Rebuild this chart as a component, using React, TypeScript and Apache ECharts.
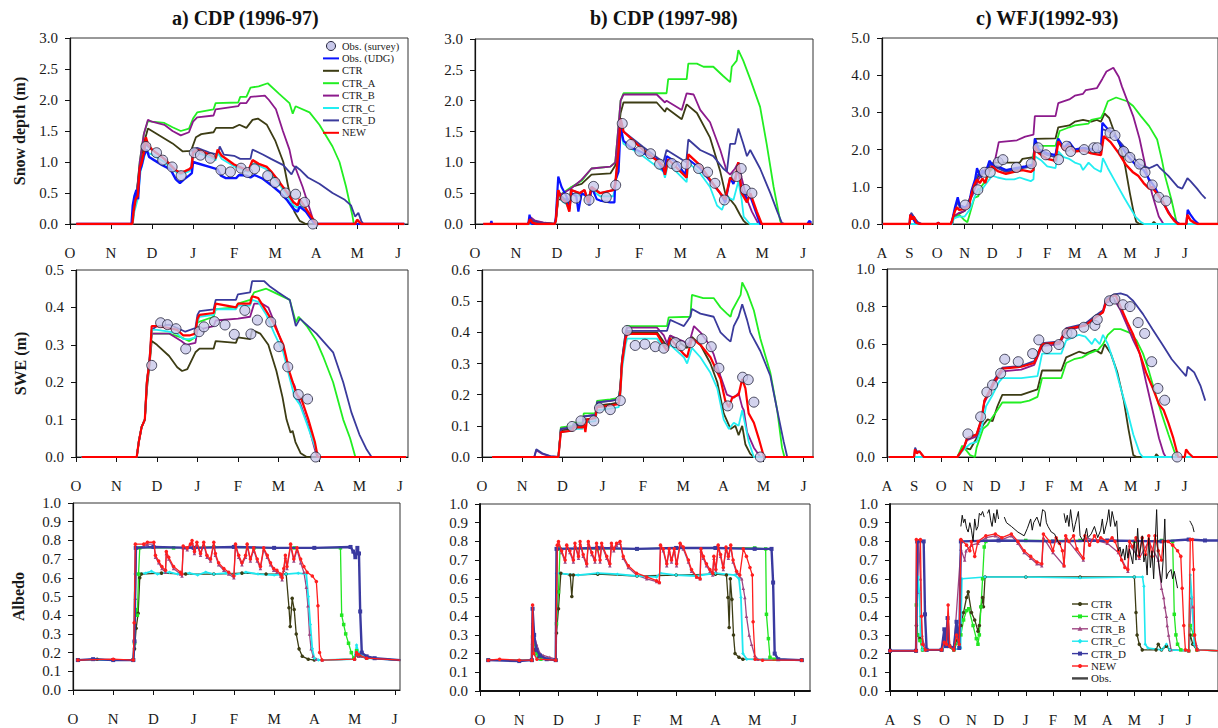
import React, { useEffect, useRef } from 'react';
import * as echarts from 'echarts';

type Pt = [number, number | string];

// x values are months elapsed since the first axis month (Oct 1 for CDP, Aug 1 for WFJ)
const MONTHS_OCT = ['O', 'N', 'D', 'J', 'F', 'M', 'A', 'M', 'J'];
const MONTHS_AUG = ['A', 'S', 'O', 'N', 'D', 'J', 'F', 'M', 'A', 'M', 'J', 'J'];

// ---------- a) CDP 1996-97 : snow depth (m) ----------
const depthA_survey: Pt[] = [[1.85,1.25],[2.11,1.15],[2.26,1.03],[2.49,0.92],[2.71,0.78],[3.03,1.15],[3.18,1.11],[3.42,1.06],[3.68,0.87],[3.91,0.84],[4.17,0.9],[4.33,0.83],[4.5,0.89],[4.82,0.78],[5.0,0.67],[5.25,0.5],[5.5,0.48],[5.72,0.35],[5.92,0.0]];
const depthA_udg: Pt[] = [[0.15,0],[1.5,0],[1.53,0.3],[1.57,0.45],[1.62,0.55],[1.66,0.4],[1.7,0.85],[1.75,0.95],[1.8,1.1],[1.87,1.2],[1.93,1.08],[2.05,1.03],[2.25,0.95],[2.45,0.88],[2.58,0.72],[2.68,0.66],[2.78,0.72],[2.9,0.78],[2.97,0.82],[3.0,1.0],[3.1,0.98],[3.4,0.92],[3.6,0.88],[3.68,0.78],[3.8,0.74],[4.05,0.74],[4.12,0.79],[4.3,0.78],[4.4,0.75],[4.5,0.79],[4.7,0.73],[4.9,0.63],[5.1,0.52],[5.3,0.38],[5.45,0.24],[5.55,0.2],[5.6,0.28],[5.75,0.2],[5.88,0.08],[5.97,0],[8.15,0]];
const depthA_ctr: Pt[] = [[0.15,0],[1.52,0],[1.55,0.2],[1.62,0.45],[1.7,0.95],[1.8,1.3],[1.9,1.54],[2.0,1.5],[2.2,1.42],[2.5,1.3],[2.75,1.17],[2.95,1.18],[3.07,1.4],[3.2,1.45],[3.5,1.48],[3.56,1.55],[3.97,1.55],[4.13,1.6],[4.3,1.55],[4.45,1.68],[4.58,1.7],[4.8,1.6],[5.0,1.35],[5.2,1.0],[5.35,0.5],[5.47,0.2],[5.6,0.05],[5.75,0],[8.15,0]];
const depthA_ctrA: Pt[] = [[0.15,0],[1.52,0],[1.55,0.2],[1.62,0.45],[1.7,1.0],[1.8,1.45],[1.9,1.66],[2.0,1.65],[2.3,1.63],[2.5,1.56],[2.7,1.5],[2.9,1.54],[3.0,1.7],[3.1,1.8],[3.5,1.85],[3.55,1.95],[4.1,1.96],[4.15,2.05],[4.3,2.05],[4.4,2.2],[4.6,2.22],[4.82,2.27],[5.1,2.1],[5.35,1.95],[5.43,1.78],[5.5,1.9],[5.84,1.8],[6.08,1.6],[6.4,1.25],[6.57,1.0],[6.73,0.6],[6.88,0.15],[6.92,0],[8.15,0]];
const depthA_ctrB: Pt[] = [[0.15,0],[1.52,0],[1.55,0.2],[1.62,0.45],[1.7,1.0],[1.8,1.45],[1.9,1.68],[2.0,1.65],[2.3,1.6],[2.5,1.5],[2.7,1.43],[2.9,1.48],[3.0,1.65],[3.1,1.72],[3.5,1.75],[3.55,1.85],[4.1,1.9],[4.15,1.95],[4.3,1.95],[4.4,2.05],[4.75,2.07],[4.85,2.0],[5.02,1.85],[5.19,1.5],[5.35,1.2],[5.43,0.95],[5.5,0.9],[5.67,0.6],[5.84,0.25],[5.96,0],[8.15,0]];
const depthA_ctrC: Pt[] = [[0.15,0],[1.53,0],[1.57,0.2],[1.65,0.4],[1.72,0.85],[1.8,1.05],[1.85,1.2],[1.9,1.15],[2.0,1.12],[2.3,1.0],[2.55,0.85],[2.7,0.8],[2.9,0.85],[2.97,0.88],[3.0,1.12],[3.1,1.15],[3.4,1.08],[3.55,1.03],[3.6,1.15],[3.7,1.05],[4.0,0.93],[4.2,0.88],[4.35,0.84],[4.45,0.98],[4.6,0.94],[4.8,0.88],[4.9,0.8],[5.1,0.64],[5.3,0.45],[5.45,0.3],[5.55,0.26],[5.6,0.35],[5.8,0.16],[5.95,0.03],[6.0,0],[8.15,0]];
const depthA_ctrD: Pt[] = [[0.15,0],[1.52,0],[1.55,0.2],[1.62,0.45],[1.7,0.9],[1.78,1.05],[1.85,1.3],[1.9,1.25],[2.0,1.2],[2.3,1.05],[2.6,0.85],[2.8,0.83],[2.95,0.9],[3.0,1.2],[3.1,1.23],[3.4,1.15],[3.6,1.12],[3.65,1.25],[3.75,1.12],[4.0,1.1],[4.15,1.05],[4.4,1.05],[4.45,1.2],[4.7,1.12],[4.9,1.05],[5.2,0.95],[5.4,0.8],[5.5,0.93],[5.6,0.88],[5.8,0.75],[6.08,0.65],[6.4,0.5],[6.7,0.39],[6.85,0.3],[6.95,0.12],[7.03,0.18],[7.1,0.05],[7.15,0],[8.15,0]];
const depthA_new: Pt[] = [[0.15,0],[1.52,0],[1.55,0.2],[1.6,0.4],[1.65,0.45],[1.7,0.9],[1.75,1.0],[1.8,1.15],[1.85,1.4],[1.9,1.28],[2.0,1.2],[2.3,1.05],[2.55,0.88],[2.7,0.82],[2.9,0.88],[2.97,0.92],[3.0,1.15],[3.1,1.2],[3.4,1.12],[3.55,1.06],[3.6,1.2],[3.7,1.1],[4.0,0.96],[4.2,0.9],[4.35,0.86],[4.45,1.03],[4.6,0.97],[4.8,0.92],[4.9,0.85],[5.1,0.68],[5.3,0.5],[5.45,0.35],[5.55,0.3],[5.6,0.4],[5.8,0.2],[5.95,0.05],[6.0,0],[6.95,0],[7.0,0.07],[7.1,0],[8.15,0]];

// ---------- b) CDP 1997-98 : snow depth (m) ----------
const depthB_survey: Pt[] = [[2.21,0.42],[2.46,0.42],[2.78,0.39],[2.89,0.61],[3.2,0.43],[3.43,0.63],[3.59,1.63],[3.8,1.29],[4.02,1.18],[4.28,1.14],[4.5,0.97],[4.8,0.98],[4.92,0.93],[5.15,0.97],[5.45,0.9],[5.67,0.84],[5.85,0.66],[6.08,0.39],[6.38,0.77],[6.49,0.9],[6.59,0.56],[6.75,0.5]];
const depthB_udg: Pt[] = [[0.2,0],[0.38,0],[0.4,0.05],[0.42,0],[1.3,0],[1.33,0.15],[1.36,0.02],[1.4,0],[1.94,0],[1.97,0.1],[2.03,0.77],[2.11,0.6],[2.23,0.45],[2.3,0.25],[2.35,0.5],[2.47,0.45],[2.52,0.2],[2.6,0.5],[2.72,0.45],[2.79,0.3],[2.84,0.6],[2.97,0.4],[3.05,0.38],[3.3,0.35],[3.4,0.35],[3.42,0.7],[3.5,0.85],[3.55,1.58],[3.62,1.35],[3.78,1.25],[4.1,1.15],[4.43,1.05],[4.63,0.82],[4.67,1.1],[4.92,1.0],[5.12,0.8],[5.2,1.05],[5.49,0.9],[5.73,0.7],[5.98,0.5],[6.1,0.35],[6.22,0.75],[6.3,0.65],[6.42,0.9],[6.5,0.55],[6.63,0.4],[6.71,0.45],[6.87,0.15],[6.95,0],[8.1,0],[8.15,0.05],[8.2,0.02]];
const depthB_ctr: Pt[] = [[0.2,0],[1.3,0],[1.34,0.1],[1.4,0.05],[1.6,0.02],[1.94,0],[1.97,0.05],[2.03,0.4],[2.3,0.4],[2.35,0.6],[2.6,0.65],[2.84,0.8],[3.3,0.82],[3.42,0.95],[3.5,1.5],[3.55,1.8],[3.62,1.97],[4.43,1.97],[4.63,1.82],[4.67,1.88],[5.04,1.7],[5.16,1.94],[5.41,1.8],[5.73,1.4],[5.98,0.85],[6.1,0.5],[6.22,0.4],[6.34,0.3],[6.46,0.15],[6.55,0.05],[6.63,0],[8.2,0]];
const depthB_ctrA: Pt[] = [[0.2,0],[1.3,0],[1.34,0.1],[1.4,0.05],[1.6,0.02],[1.94,0],[1.97,0.05],[2.03,0.45],[2.35,0.6],[2.6,0.7],[2.84,0.9],[3.3,0.93],[3.42,1.0],[3.5,1.6],[3.55,2.0],[3.62,2.12],[4.67,2.12],[4.71,2.35],[5.16,2.35],[5.2,2.6],[5.41,2.6],[5.57,2.55],[5.81,2.55],[6.05,2.4],[6.22,2.3],[6.26,2.55],[6.38,2.65],[6.42,2.82],[6.54,2.65],[6.71,2.35],[6.95,1.9],[7.11,1.3],[7.28,0.6],[7.44,0.05],[7.48,0],[8.2,0]];
const depthB_ctrB: Pt[] = [[0.2,0],[1.3,0],[1.34,0.12],[1.45,0.06],[1.7,0.02],[1.94,0],[1.97,0.05],[2.03,0.45],[2.35,0.58],[2.6,0.72],[2.84,0.9],[3.3,0.93],[3.42,1.0],[3.5,1.6],[3.55,2.0],[3.62,2.1],[4.43,2.1],[4.63,1.97],[4.67,2.0],[5.04,1.85],[5.16,2.12],[5.33,2.1],[5.49,1.85],[5.73,1.65],[5.98,1.2],[6.14,0.85],[6.22,0.8],[6.34,0.9],[6.42,1.0],[6.5,0.75],[6.63,0.4],[6.75,0.2],[6.87,0.05],[6.91,0],[8.2,0]];
const depthB_ctrC: Pt[] = [[0.2,0],[1.94,0],[1.97,0.05],[2.03,0.5],[2.11,0.38],[2.23,0.32],[2.3,0.22],[2.35,0.5],[2.55,0.45],[2.67,0.5],[2.76,0.33],[2.84,0.55],[3.05,0.45],[3.37,0.45],[3.42,0.6],[3.5,1.1],[3.55,1.5],[3.62,1.3],[4.1,1.1],[4.59,0.85],[4.63,0.75],[4.71,0.98],[5.16,0.68],[5.2,1.0],[5.49,0.82],[5.73,0.6],[5.9,0.3],[6.02,0.23],[6.14,0.44],[6.3,0.39],[6.42,0.69],[6.5,0.4],[6.55,0.12],[6.7,0],[8.2,0]];
const depthB_ctrD: Pt[] = [[0.2,0],[1.3,0],[1.34,0.1],[1.4,0.05],[1.6,0.02],[1.94,0],[1.97,0.05],[2.03,0.55],[2.11,0.45],[2.23,0.38],[2.3,0.25],[2.35,0.55],[2.55,0.5],[2.67,0.55],[2.76,0.38],[2.84,0.6],[3.05,0.5],[3.37,0.55],[3.42,0.65],[3.5,1.2],[3.55,1.65],[3.62,1.5],[4.1,1.25],[4.59,1.0],[4.67,1.2],[5.15,1.0],[5.2,1.37],[5.49,1.2],[5.81,1.1],[6.05,0.9],[6.14,0.85],[6.22,1.3],[6.34,1.3],[6.42,1.55],[6.54,1.3],[6.63,1.1],[6.71,1.2],[6.95,0.9],[7.2,0.5],[7.37,0.2],[7.48,0.02],[7.55,0],[8.2,0]];
const depthB_new: Pt[] = [[0.2,0],[1.3,0],[1.34,0.08],[1.4,0.02],[1.5,0],[1.94,0],[1.97,0.05],[2.03,0.55],[2.11,0.4],[2.23,0.35],[2.3,0.2],[2.35,0.55],[2.55,0.5],[2.67,0.55],[2.76,0.35],[2.84,0.6],[3.05,0.5],[3.37,0.55],[3.42,0.65],[3.5,1.2],[3.55,1.71],[3.62,1.5],[4.1,1.2],[4.59,0.95],[4.63,0.8],[4.71,1.05],[5.16,0.75],[5.2,1.13],[5.49,0.95],[5.73,0.72],[5.98,0.5],[6.1,0.4],[6.22,0.75],[6.34,0.7],[6.42,1.0],[6.5,0.5],[6.63,0.35],[6.71,0.5],[6.87,0.2],[6.99,0],[8.2,0]];

// ---------- c) WFJ 1992-93 : snow depth (m) ----------
const depthC_survey: Pt[] = [[3.02,0.51],[3.48,0.92],[3.72,1.39],[3.93,1.39],[4.22,1.66],[4.39,1.73],[4.88,1.52],[5.42,1.62],[5.67,2.05],[5.95,1.86],[6.41,1.73],[6.7,2.09],[6.85,1.95],[7.34,2.0],[7.69,2.05],[7.82,2.05],[8.28,2.45],[8.46,2.38],[8.77,1.95],[9.0,1.79],[9.35,1.61],[9.55,1.39],[9.81,1.05],[10.05,0.72],[10.31,0.62]];
const depthC_udg: Pt[] = [[0.03,0],[1.0,0],[1.03,0.25],[1.1,0.18],[1.2,0.05],[1.4,0],[2.0,0],[2.03,0.04],[2.1,0],[2.5,0],[2.55,0.1],[2.65,0.45],[2.75,0.72],[2.82,0.5],[3.0,0.45],[3.15,0.5],[3.25,0.9],[3.38,1.2],[3.45,1.5],[3.55,1.3],[3.65,1.45],[3.75,1.35],[3.9,1.7],[4.0,1.6],[4.2,1.55],[4.5,1.45],[4.85,1.5],[5.2,1.55],[5.5,1.6],[5.55,2.3],[5.7,2.0],[6.0,1.9],[6.3,1.85],[6.4,2.3],[6.6,2.05],[6.8,2.2],[7.0,2.0],[7.3,2.05],[7.7,2.0],[7.95,1.95],[8.0,2.72],[8.2,2.55],[8.4,2.45],[8.6,2.2],[8.9,1.85],[9.2,1.6],[9.5,1.45],[9.7,1.2],[9.9,1.0],[10.1,0.7],[10.3,0.45],[10.5,0.2],[10.7,0.05],[10.8,0],[11.05,0],[11.1,0.38],[11.2,0.25],[11.35,0.1],[11.5,0],[12.2,0]];
const depthC_ctr: Pt[] = [[0.03,0],[2.55,0],[2.6,0.2],[3.0,0.35],[3.3,0.9],[3.5,1.3],[3.7,1.4],[3.9,1.6],[4.1,1.65],[5.0,1.65],[5.1,1.75],[5.5,1.8],[5.55,2.29],[6.3,2.3],[6.4,2.6],[6.8,2.65],[7.0,2.75],[7.3,2.8],[7.6,2.75],[7.8,2.8],[7.95,2.75],[8.08,2.97],[8.25,2.85],[8.42,2.5],[8.65,2.09],[8.83,1.55],[9.0,0.83],[9.12,0.38],[9.23,0.06],[9.35,0],[9.8,0],[9.87,0.06],[9.95,0],[12.2,0]];
const depthC_ctrA: Pt[] = [[0.03,0],[2.55,0],[2.6,0.15],[2.8,0.25],[3.0,0.1],[3.1,0.05],[3.2,0.3],[3.35,0.7],[3.5,0.75],[3.6,1.0],[3.8,1.2],[3.9,1.4],[4.1,1.55],[4.5,1.45],[5.0,1.5],[5.3,1.55],[5.45,1.6],[5.55,2.1],[6.3,2.1],[6.45,2.5],[6.8,2.6],[7.0,2.65],[7.5,2.7],[7.6,2.8],[7.95,2.85],[8.05,3.0],[8.2,3.3],[8.5,3.4],[8.9,3.3],[9.12,3.17],[9.4,2.9],[9.7,2.63],[9.99,2.27],[10.16,1.73],[10.28,1.28],[10.51,0.65],[10.69,0.06],[10.75,0],[12.2,0]];
const depthC_ctrB: Pt[] = [[0.03,0],[2.55,0],[2.6,0.2],[2.8,0.3],[3.0,0.35],[3.3,0.8],[3.5,1.2],[3.6,1.3],[3.77,1.5],[4.0,1.6],[4.1,1.7],[4.24,2.2],[4.9,2.25],[5.2,2.35],[5.5,2.4],[5.55,2.9],[6.3,2.9],[6.4,3.25],[6.8,3.35],[7.0,3.45],[7.3,3.5],[7.4,3.6],[7.8,3.65],[8.0,3.9],[8.15,4.1],[8.4,4.2],[8.6,3.95],[8.71,3.7],[9.12,2.9],[9.35,2.3],[9.58,1.5],[9.81,0.8],[10.05,0.2],[10.22,0],[12.2,0]];
const depthC_ctrC: Pt[] = [[0.03,0],[2.55,0],[2.6,0.15],[2.8,0.2],[3.0,0.2],[3.2,0.4],[3.4,0.8],[3.5,0.95],[3.6,0.9],[3.8,1.1],[4.0,1.3],[4.2,1.25],[4.5,1.2],[4.8,1.2],[5.0,1.25],[5.2,1.2],[5.4,1.15],[5.5,1.2],[5.55,1.82],[5.8,1.7],[6.0,1.55],[6.3,1.5],[6.4,1.95],[6.6,1.8],[6.8,1.75],[7.0,1.65],[7.2,1.6],[7.3,1.45],[7.5,1.65],[7.7,1.5],[7.95,1.4],[8.02,1.77],[8.2,1.5],[8.5,1.1],[8.8,0.7],[9.0,0.45],[9.2,0.2],[9.4,0.05],[9.52,0],[12.2,0]];
const depthC_ctrD: Pt[] = [[0.03,0],[1.0,0],[1.06,0.3],[1.15,0.2],[1.3,0.05],[1.45,0],[2.0,0],[2.05,0.03],[2.1,0],[2.5,0],[2.55,0.1],[2.65,0.4],[2.75,0.6],[2.82,0.45],[3.0,0.45],[3.15,0.5],[3.25,0.85],[3.4,1.2],[3.5,1.35],[3.6,1.25],[3.7,1.4],[3.8,1.3],[3.9,1.6],[4.0,1.6],[4.2,1.5],[4.5,1.4],[4.8,1.45],[5.1,1.5],[5.5,1.55],[5.55,2.2],[5.7,1.95],[6.0,1.85],[6.3,1.8],[6.4,2.25],[6.6,2.0],[6.8,2.15],[7.0,2.0],[7.3,2.02],[7.7,1.98],[7.95,1.9],[8.0,2.55],[8.2,2.5],[8.42,2.4],[8.88,2.0],[9.35,1.6],[9.7,1.5],[9.85,1.55],[9.99,1.6],[10.1,1.5],[10.39,1.3],[10.74,1.0],[10.9,0.95],[11.09,1.23],[11.2,1.15],[11.44,0.95],[11.6,0.8],[11.75,0.68]];
const depthC_new: Pt[] = [[0.03,0],[1.0,0],[1.03,0.25],[1.1,0.12],[1.15,0.2],[1.25,0.03],[1.4,0],[2.0,0],[2.03,0.03],[2.1,0],[2.5,0],[2.55,0.1],[2.65,0.35],[2.72,0.45],[2.8,0.38],[3.0,0.4],[3.15,0.45],[3.25,0.8],[3.35,1.05],[3.45,1.2],[3.55,1.1],[3.65,1.22],[3.75,1.1],[3.85,1.4],[4.0,1.55],[4.2,1.42],[4.5,1.35],[4.8,1.4],[5.1,1.45],[5.4,1.4],[5.5,1.45],[5.55,2.09],[5.7,1.9],[6.0,1.75],[6.3,1.7],[6.4,2.22],[6.6,2.0],[6.8,2.1],[7.0,1.95],[7.3,1.98],[7.6,1.9],[7.95,1.85],[8.05,2.36],[8.3,2.2],[8.6,1.9],[8.85,1.6],[9.1,1.4],[9.3,1.3],[9.5,1.1],[9.7,0.95],[9.8,1.0],[10.0,0.8],[10.2,0.6],[10.4,0.3],[10.6,0.1],[10.74,0],[11.05,0],[11.09,0.25],[11.2,0.1],[11.35,0.03],[11.45,0],[12.2,0]];

// ---------- a) SWE (m) ----------
const sweA_survey: Pt[] = [[1.87,0.245],[2.09,0.359],[2.26,0.354],[2.47,0.343],[2.71,0.289],[3.04,0.335],[3.16,0.348],[3.42,0.362],[3.68,0.353],[3.91,0.328],[4.17,0.392],[4.32,0.329],[4.48,0.366],[4.81,0.361],[5.01,0.295],[5.23,0.241],[5.49,0.167],[5.72,0.155],[5.92,0.0]];
const sweA_ctr: Pt[] = [[0.14,0],[1.5,0],[1.55,0.04],[1.62,0.08],[1.7,0.1],[1.75,0.18],[1.82,0.25],[1.87,0.31],[2.0,0.3],[2.3,0.27],[2.5,0.24],[2.62,0.23],[2.75,0.235],[2.95,0.28],[3.05,0.29],[3.4,0.29],[3.45,0.31],[3.95,0.305],[4.0,0.32],[4.3,0.315],[4.35,0.34],[4.55,0.33],[4.75,0.3],[4.95,0.23],[5.1,0.16],[5.2,0.1],[5.3,0.065],[5.35,0.07],[5.42,0.04],[5.55,0.01],[5.7,0],[8.15,0]];
const sweA_ctrA: Pt[] = [[0.14,0],[1.5,0],[1.55,0.04],[1.62,0.08],[1.7,0.1],[1.75,0.2],[1.82,0.26],[1.87,0.33],[2.3,0.33],[2.6,0.32],[2.8,0.31],[2.95,0.32],[3.0,0.36],[3.4,0.375],[3.45,0.395],[3.95,0.4],[4.0,0.41],[4.3,0.42],[4.4,0.44],[4.7,0.45],[4.8,0.445],[5.28,0.42],[5.43,0.36],[5.5,0.375],[5.7,0.35],[5.94,0.31],[6.1,0.27],[6.35,0.2],[6.6,0.1],[6.77,0.05],[6.9,0],[8.15,0]];
const sweA_ctrB: Pt[] = [[0.14,0],[1.5,0],[1.55,0.04],[1.62,0.08],[1.7,0.1],[1.75,0.2],[1.82,0.26],[1.87,0.33],[2.3,0.33],[2.6,0.31],[2.72,0.3],[2.95,0.305],[3.0,0.34],[3.4,0.35],[3.45,0.365],[4.0,0.37],[4.3,0.375],[4.4,0.41],[4.6,0.41],[4.75,0.4],[4.9,0.36],[5.1,0.3],[5.3,0.21],[5.4,0.19],[5.45,0.17],[5.55,0.14],[5.75,0.08],[5.9,0.02],[5.96,0],[8.15,0]];
const sweA_ctrC: Pt[] = [[0.14,0],[1.5,0],[1.55,0.04],[1.62,0.08],[1.7,0.1],[1.75,0.2],[1.82,0.26],[1.87,0.34],[2.0,0.34],[2.3,0.335],[2.5,0.33],[2.65,0.315],[2.8,0.315],[2.95,0.32],[3.0,0.36],[3.05,0.375],[3.4,0.38],[3.45,0.395],[3.95,0.395],[4.0,0.405],[4.3,0.405],[4.35,0.42],[4.5,0.415],[4.7,0.38],[4.9,0.33],[5.12,0.28],[5.28,0.21],[5.4,0.16],[5.53,0.14],[5.7,0.09],[5.86,0.04],[5.99,0],[8.15,0]];
const sweA_ctrD: Pt[] = [[0.14,0],[1.5,0],[1.55,0.04],[1.62,0.08],[1.7,0.1],[1.75,0.2],[1.82,0.27],[1.87,0.34],[2.0,0.35],[2.3,0.354],[2.5,0.345],[2.7,0.335],[2.95,0.345],[3.0,0.38],[3.05,0.39],[3.4,0.395],[3.45,0.42],[3.95,0.42],[4.0,0.435],[4.3,0.44],[4.35,0.47],[4.65,0.47],[4.8,0.455],[5.0,0.44],[5.28,0.42],[5.43,0.35],[5.53,0.37],[5.94,0.33],[6.35,0.28],[6.6,0.2],[6.8,0.12],[7.0,0.06],[7.18,0.02],[7.3,0],[8.15,0]];
const sweA_new: Pt[] = [[0.14,0],[1.5,0],[1.55,0.04],[1.62,0.08],[1.7,0.1],[1.75,0.2],[1.82,0.26],[1.87,0.35],[2.0,0.35],[2.3,0.345],[2.5,0.34],[2.65,0.325],[2.8,0.325],[2.95,0.33],[3.0,0.37],[3.05,0.38],[3.4,0.385],[3.45,0.41],[3.95,0.4],[4.0,0.41],[4.3,0.41],[4.35,0.43],[4.5,0.425],[4.7,0.39],[4.87,0.36],[5.12,0.3],[5.28,0.225],[5.45,0.167],[5.57,0.154],[5.74,0.1],[5.9,0.04],[5.97,0],[8.15,0]];

// ---------- b) SWE (m) ----------
const sweB_survey: Pt[] = [[2.24,0.098],[2.46,0.116],[2.78,0.116],[2.92,0.157],[3.19,0.152],[3.44,0.181],[3.61,0.406],[3.81,0.358],[4.05,0.362],[4.31,0.354],[4.52,0.349],[4.81,0.367],[4.95,0.357],[5.18,0.367],[5.47,0.379],[5.7,0.354],[5.89,0.285],[6.11,0.164],[6.48,0.256],[6.62,0.248],[6.76,0.176],[6.92,0.0]];
const sweB_ctr: Pt[] = [[0.25,0],[1.9,0],[1.96,0.085],[2.26,0.09],[2.28,0.1],[2.5,0.1],[2.53,0.12],[2.82,0.125],[2.86,0.165],[3.19,0.17],[3.4,0.175],[3.44,0.215],[3.48,0.3],[3.57,0.385],[3.61,0.4],[4.35,0.4],[4.6,0.355],[4.68,0.39],[5.1,0.35],[5.22,0.385],[5.43,0.36],[5.68,0.3],[5.85,0.24],[6.01,0.14],[6.18,0.09],[6.3,0.1],[6.38,0.07],[6.47,0.1],[6.55,0.04],[6.67,0.01],[6.76,0],[8.25,0]];
const sweB_ctrA: Pt[] = [[0.25,0],[1.9,0],[1.96,0.095],[2.26,0.1],[2.28,0.11],[2.5,0.11],[2.53,0.14],[2.82,0.14],[2.86,0.18],[3.19,0.185],[3.4,0.19],[3.44,0.23],[3.48,0.31],[3.57,0.4],[3.61,0.42],[4.6,0.42],[4.64,0.448],[5.18,0.45],[5.22,0.52],[5.5,0.51],[5.76,0.51],[5.93,0.48],[6.09,0.46],[6.18,0.45],[6.22,0.47],[6.43,0.52],[6.47,0.56],[6.59,0.53],[6.76,0.47],[6.92,0.38],[7.17,0.27],[7.34,0.15],[7.46,0.03],[7.52,0],[8.25,0]];
const sweB_ctrB: Pt[] = [[0.25,0],[1.3,0],[1.35,0.022],[1.5,0.01],[1.7,0.002],[1.9,0],[1.96,0.09],[2.26,0.095],[2.28,0.105],[2.5,0.105],[2.53,0.13],[2.82,0.135],[2.86,0.175],[3.19,0.18],[3.4,0.185],[3.44,0.225],[3.48,0.31],[3.57,0.4],[3.61,0.415],[4.35,0.415],[4.52,0.39],[4.6,0.365],[4.68,0.39],[5.02,0.37],[5.14,0.36],[5.27,0.42],[5.43,0.4],[5.6,0.37],[5.76,0.33],[5.93,0.26],[6.09,0.2],[6.26,0.19],[6.38,0.205],[6.47,0.16],[6.51,0.15],[6.59,0.08],[6.76,0.03],[6.92,0],[8.25,0]];
const sweB_ctrC: Pt[] = [[0.25,0],[1.9,0],[1.96,0.08],[2.26,0.085],[2.28,0.09],[2.5,0.09],[2.53,0.11],[2.82,0.115],[2.86,0.15],[3.19,0.155],[3.4,0.16],[3.44,0.2],[3.48,0.28],[3.57,0.36],[3.61,0.38],[4.35,0.38],[4.6,0.34],[4.68,0.36],[5.02,0.32],[5.1,0.3],[5.22,0.35],[5.43,0.32],[5.68,0.27],[5.85,0.22],[6.01,0.12],[6.14,0.09],[6.26,0.11],[6.38,0.1],[6.47,0.15],[6.55,0.1],[6.63,0.05],[6.76,0],[8.25,0]];
const sweB_ctrD: Pt[] = [[0.25,0],[1.3,0],[1.35,0.025],[1.5,0.012],[1.7,0.003],[1.9,0],[1.96,0.09],[2.26,0.095],[2.28,0.105],[2.5,0.105],[2.53,0.13],[2.82,0.135],[2.86,0.175],[3.19,0.18],[3.4,0.185],[3.44,0.225],[3.48,0.31],[3.57,0.39],[3.61,0.405],[4.6,0.405],[4.68,0.44],[4.85,0.43],[5.02,0.42],[5.18,0.45],[5.22,0.475],[5.43,0.46],[5.76,0.45],[5.93,0.4],[6.09,0.38],[6.18,0.37],[6.26,0.42],[6.38,0.45],[6.47,0.49],[6.59,0.44],[6.67,0.4],[6.92,0.34],[7.17,0.26],[7.34,0.15],[7.5,0.05],[7.59,0],[8.25,0]];
const sweB_new: Pt[] = [[0.25,0],[1.9,0],[1.96,0.08],[2.26,0.085],[2.28,0.095],[2.5,0.095],[2.53,0.11],[2.57,0.08],[2.61,0.12],[2.82,0.125],[2.86,0.16],[3.19,0.165],[3.4,0.17],[3.44,0.21],[3.48,0.3],[3.57,0.38],[3.61,0.395],[4.35,0.395],[4.6,0.34],[4.68,0.38],[5.02,0.33],[5.1,0.32],[5.22,0.38],[5.43,0.36],[5.68,0.32],[5.93,0.25],[6.05,0.18],[6.14,0.16],[6.22,0.19],[6.38,0.2],[6.47,0.25],[6.55,0.22],[6.63,0.14],[6.76,0.11],[6.88,0.06],[7.01,0],[8.25,0]];

// ---------- c) SWE (m) ----------
const sweC_survey: Pt[] = [[2.99,0.123],[3.46,0.214],[3.69,0.345],[3.9,0.383],[4.2,0.445],[4.35,0.52],[4.85,0.507],[5.38,0.55],[5.61,0.623],[5.91,0.577],[6.35,0.598],[6.65,0.658],[6.83,0.658],[7.27,0.69],[7.68,0.7],[7.77,0.731],[8.22,0.831],[8.42,0.84],[8.72,0.81],[8.98,0.8],[9.28,0.715],[9.52,0.657],[9.78,0.507],[10.01,0.365],[10.26,0.302],[10.72,0.0]];
const sweC_ctr: Pt[] = [[0.06,0],[2.6,0],[2.84,0.05],[3.07,0.04],[3.31,0.1],[3.55,0.17],[3.72,0.2],[3.9,0.19],[4.08,0.27],[4.26,0.33],[4.96,0.33],[5.56,0.36],[5.73,0.46],[6.44,0.46],[6.62,0.53],[7.09,0.56],[7.33,0.55],[7.68,0.57],[7.92,0.55],[8.04,0.6],[8.27,0.55],[8.51,0.45],[8.75,0.3],[8.92,0.15],[9.1,0.01],[9.22,0],[9.9,0],[9.95,0.015],[10.05,0],[12.2,0]];
const sweC_ctrA: Pt[] = [[0.06,0],[2.6,0],[2.78,0.06],[2.96,0.03],[3.07,0.01],[3.25,0.0],[3.31,0.05],[3.55,0.15],[3.72,0.17],[3.84,0.2],[4.08,0.25],[4.26,0.29],[4.96,0.29],[5.26,0.3],[5.56,0.32],[5.73,0.42],[6.44,0.42],[6.62,0.5],[6.91,0.52],[7.21,0.53],[7.45,0.55],[7.8,0.57],[7.98,0.6],[8.16,0.65],[8.39,0.68],[8.63,0.68],[8.98,0.66],[9.22,0.62],[9.46,0.55],[9.69,0.45],[9.93,0.33],[10.17,0.22],[10.4,0.12],[10.64,0.02],[10.7,0],[12.2,0]];
const sweC_ctrB: Pt[] = [[0.06,0],[2.6,0],[2.84,0.05],[2.96,0.09],[3.31,0.11],[3.49,0.19],[3.6,0.29],[3.78,0.34],[3.96,0.39],[4.14,0.43],[4.26,0.455],[4.96,0.465],[5.44,0.49],[5.73,0.59],[6.38,0.6],[6.62,0.67],[7.33,0.7],[7.68,0.74],[7.98,0.77],[8.1,0.82],[8.39,0.84],[8.63,0.78],[8.87,0.7],[9.1,0.62],[9.34,0.55],[9.57,0.4],[9.81,0.25],[10.05,0.1],[10.22,0.02],[10.3,0],[12.2,0]];
const sweC_ctrC: Pt[] = [[0.06,0],[2.6,0],[2.84,0.04],[3.07,0.07],[3.31,0.08],[3.49,0.15],[3.66,0.27],[3.9,0.33],[4.14,0.4],[4.26,0.42],[4.96,0.42],[5.56,0.43],[5.73,0.55],[6.44,0.55],[6.62,0.62],[7.09,0.65],[7.33,0.64],[7.57,0.6],[7.68,0.63],[7.86,0.6],[7.98,0.65],[8.16,0.6],[8.39,0.5],[8.63,0.37],[8.87,0.25],[9.1,0.12],[9.34,0.02],[9.45,0],[12.2,0]];
const sweC_ctrD: Pt[] = [[0.06,0],[1.0,0],[1.04,0.05],[1.1,0.03],[1.2,0.03],[1.36,0],[2.6,0],[2.84,0.05],[2.96,0.1],[3.31,0.12],[3.49,0.2],[3.6,0.3],[3.78,0.35],[3.96,0.41],[4.14,0.45],[4.26,0.475],[4.96,0.485],[5.44,0.51],[5.73,0.605],[6.38,0.615],[6.62,0.685],[7.33,0.71],[7.68,0.75],[7.98,0.78],[8.1,0.84],[8.39,0.865],[8.63,0.87],[8.87,0.86],[9.1,0.83],[9.46,0.76],[9.81,0.68],[10.17,0.6],[10.52,0.52],[10.87,0.46],[11.05,0.43],[11.11,0.48],[11.35,0.45],[11.58,0.38],[11.76,0.3]];
const sweC_new: Pt[] = [[0.06,0],[1.0,0],[1.03,0.04],[1.1,0.02],[1.2,0.03],[1.36,0],[2.6,0],[2.84,0.05],[2.96,0.1],[3.31,0.12],[3.49,0.2],[3.6,0.3],[3.78,0.35],[3.96,0.4],[4.14,0.44],[4.26,0.47],[4.96,0.48],[5.44,0.5],[5.73,0.6],[6.38,0.61],[6.62,0.68],[7.33,0.7],[7.68,0.74],[7.98,0.77],[8.1,0.83],[8.27,0.85],[8.45,0.86],[8.63,0.8],[8.87,0.72],[9.1,0.65],[9.34,0.55],[9.57,0.45],[9.81,0.37],[10.05,0.28],[10.22,0.25],[10.4,0.18],[10.58,0.1],[10.76,0],[11.0,0],[11.05,0.04],[11.15,0.02],[11.3,0],[12.2,0]];

// ---------- a) albedo ----------
const albA_ctr: Pt[] = [[0.12,0.16],[0.6,0.165],[1.0,0.16],[1.5,0.16],[1.53,0.22],[1.57,0.33],[1.62,0.41],[1.66,0.6],[1.7,0.62],[2.2,0.625],[2.8,0.62],[3.5,0.62],[4.2,0.625],[4.8,0.62],[5.3,0.62],[5.37,0.44],[5.4,0.34],[5.45,0.49],[5.5,0.43],[5.55,0.3],[5.62,0.22],[5.7,0.18],[5.85,0.165],[6.0,0.16],[7.0,0.165],[7.05,0.19],[7.1,0.18],[7.3,0.17],[8.14,0.16]];
const albA_ctrA: Pt[] = [[0.12,0.16],[1.5,0.16],[1.53,0.25],[1.56,0.43],[1.6,0.4],[1.63,0.62],[1.66,0.76],[2.5,0.76],[3.5,0.765],[4.5,0.76],[5.5,0.76],[6.65,0.76],[6.68,0.4],[6.73,0.35],[6.78,0.3],[6.85,0.25],[6.92,0.2],[6.98,0.17],[7.05,0.21],[7.1,0.19],[7.3,0.17],[8.14,0.16]];
const albA_ctrB: Pt[] = [[0.12,0.16],[1.5,0.16],[1.52,0.27],[1.55,0.49],[1.58,0.76],[1.76,0.77],[1.85,0.78],[2.01,0.78],[2.05,0.71],[2.13,0.68],[2.21,0.65],[2.3,0.63],[2.32,0.73],[2.38,0.7],[2.5,0.65],[2.67,0.62],[2.71,0.61],[2.74,0.76],[2.84,0.75],[2.92,0.77],[2.96,0.79],[3.02,0.73],[3.08,0.78],[3.17,0.72],[3.25,0.78],[3.33,0.71],[3.42,0.69],[3.5,0.78],[3.54,0.72],[3.62,0.67],[3.75,0.64],[3.87,0.62],[4.0,0.6],[4.04,0.77],[4.12,0.71],[4.2,0.67],[4.29,0.71],[4.33,0.77],[4.41,0.69],[4.49,0.75],[4.58,0.69],[4.66,0.65],[4.74,0.75],[4.83,0.71],[4.91,0.67],[4.99,0.64],[5.07,0.63],[5.16,0.61],[5.2,0.59],[5.24,0.64],[5.28,0.71],[5.32,0.65],[5.41,0.77],[5.49,0.69],[5.57,0.75],[5.66,0.68],[5.74,0.63],[5.8,0.55],[5.84,0.45],[5.88,0.3],[5.92,0.22],[5.97,0.18],[6.05,0.165],[6.2,0.16],[7.0,0.165],[7.05,0.19],[7.1,0.18],[7.3,0.17],[8.14,0.16]];
const albA_ctrC: Pt[] = [[0.12,0.16],[1.5,0.16],[1.52,0.26],[1.54,0.62],[1.8,0.625],[1.95,0.635],[2.1,0.62],[2.4,0.63],[2.6,0.62],[2.9,0.625],[3.1,0.615],[3.3,0.63],[3.5,0.62],[3.8,0.625],[4.0,0.615],[4.3,0.63],[4.6,0.62],[5.0,0.615],[5.3,0.62],[5.6,0.625],[5.8,0.62],[5.85,0.5],[5.9,0.35],[5.95,0.22],[6.0,0.17],[6.1,0.16],[7.0,0.165],[7.05,0.24],[7.1,0.2],[7.3,0.17],[8.14,0.16]];
const albA_ctrD: Pt[] = [[0.12,0.16],[0.5,0.165],[1.0,0.16],[1.5,0.16],[1.53,0.26],[1.56,0.76],[2.0,0.765],[3.0,0.76],[4.0,0.765],[5.0,0.76],[6.0,0.76],[6.9,0.765],[6.97,0.74],[7.02,0.71],[7.07,0.76],[7.11,0.73],[7.14,0.42],[7.18,0.2],[7.3,0.18],[7.5,0.17],[8.14,0.16]];
const albA_new: Pt[] = [[0.12,0.16],[1.0,0.165],[1.5,0.16],[1.52,0.36],[1.55,0.78],[1.76,0.78],[1.85,0.79],[2.01,0.79],[2.05,0.72],[2.13,0.69],[2.21,0.66],[2.3,0.64],[2.32,0.74],[2.38,0.71],[2.5,0.66],[2.67,0.63],[2.71,0.62],[2.74,0.77],[2.84,0.76],[2.92,0.78],[2.96,0.8],[3.02,0.74],[3.08,0.79],[3.17,0.73],[3.25,0.79],[3.33,0.72],[3.42,0.7],[3.5,0.79],[3.54,0.73],[3.62,0.68],[3.75,0.65],[3.87,0.63],[4.0,0.61],[4.04,0.78],[4.12,0.72],[4.2,0.68],[4.29,0.72],[4.33,0.78],[4.41,0.7],[4.49,0.76],[4.58,0.7],[4.66,0.66],[4.74,0.76],[4.83,0.72],[4.91,0.68],[4.99,0.65],[5.07,0.64],[5.16,0.62],[5.2,0.6],[5.24,0.65],[5.28,0.72],[5.32,0.66],[5.41,0.78],[5.49,0.7],[5.57,0.76],[5.66,0.7],[5.74,0.66],[5.82,0.63],[5.95,0.61],[6.05,0.58],[6.09,0.45],[6.13,0.2],[6.19,0.16],[7.0,0.165],[7.05,0.2],[7.1,0.19],[7.3,0.17],[8.14,0.16]];

// ---------- b) albedo ----------
const albB_ctr: Pt[] = [[0.21,0.165],[1.32,0.165],[1.34,0.25],[1.4,0.22],[1.5,0.18],[1.93,0.165],[1.95,0.31],[2.0,0.44],[2.06,0.63],[2.3,0.62],[2.34,0.505],[2.38,0.62],[3.0,0.625],[4.0,0.615],[5.0,0.62],[6.0,0.625],[6.28,0.62],[6.32,0.5],[6.35,0.34],[6.38,0.6],[6.42,0.49],[6.46,0.3],[6.5,0.2],[6.6,0.18],[6.7,0.17],[8.2,0.165]];
const albB_ctrA: Pt[] = [[0.21,0.165],[1.32,0.165],[1.34,0.29],[1.38,0.25],[1.44,0.2],[1.55,0.17],[1.93,0.165],[1.95,0.36],[2.0,0.53],[2.04,0.76],[3.0,0.76],[4.0,0.76],[5.0,0.765],[6.0,0.765],[7.0,0.765],[7.28,0.76],[7.3,0.41],[7.35,0.28],[7.39,0.18],[7.5,0.17],[8.2,0.165]];
const albB_ctrB: Pt[] = [[0.21,0.165],[1.32,0.165],[1.34,0.35],[1.38,0.3],[1.44,0.25],[1.53,0.2],[1.61,0.19],[1.78,0.18],[1.93,0.17],[1.97,0.76],[2.0,0.78],[2.08,0.74],[2.17,0.69],[2.21,0.77],[2.29,0.74],[2.38,0.69],[2.42,0.78],[2.51,0.71],[2.55,0.79],[2.63,0.72],[2.72,0.67],[2.76,0.79],[2.85,0.73],[2.93,0.69],[2.97,0.78],[3.06,0.69],[3.1,0.78],[3.23,0.71],[3.31,0.67],[3.35,0.78],[3.41,0.75],[3.48,0.78],[3.57,0.79],[3.65,0.71],[3.78,0.66],[3.99,0.62],[4.25,0.6],[4.5,0.585],[4.57,0.58],[4.6,0.77],[4.67,0.75],[4.76,0.67],[4.82,0.75],[4.88,0.69],[4.95,0.75],[5.01,0.67],[5.1,0.78],[5.18,0.76],[5.31,0.69],[5.39,0.64],[5.52,0.61],[5.61,0.6],[5.63,0.75],[5.69,0.71],[5.77,0.67],[5.86,0.64],[5.93,0.62],[5.96,0.71],[6.01,0.64],[6.07,0.77],[6.13,0.72],[6.2,0.65],[6.27,0.76],[6.33,0.71],[6.39,0.77],[6.45,0.69],[6.54,0.63],[6.62,0.61],[6.67,0.6],[6.71,0.55],[6.75,0.5],[6.79,0.4],[6.86,0.3],[6.92,0.25],[7.0,0.19],[7.08,0.17],[8.2,0.165]];
const albB_ctrC: Pt[] = [[0.21,0.165],[1.32,0.165],[1.34,0.36],[1.38,0.2],[1.5,0.17],[1.93,0.165],[1.95,0.63],[2.5,0.62],[3.0,0.63],[3.5,0.625],[4.0,0.615],[4.5,0.61],[4.6,0.63],[5.0,0.62],[5.5,0.615],[6.0,0.63],[6.5,0.62],[6.6,0.6],[6.65,0.5],[6.7,0.2],[6.8,0.17],[8.2,0.165]];
const albB_ctrD: Pt[] = [[0.21,0.165],[1.0,0.16],[1.32,0.165],[1.34,0.44],[1.38,0.3],[1.44,0.22],[1.53,0.19],[1.7,0.17],[1.93,0.165],[1.95,0.76],[3.0,0.765],[4.0,0.76],[5.0,0.765],[6.0,0.765],[7.0,0.76],[7.43,0.76],[7.47,0.58],[7.51,0.2],[7.6,0.17],[8.2,0.165]];
const albB_new: Pt[] = [[0.21,0.165],[0.5,0.17],[1.0,0.165],[1.32,0.165],[1.34,0.46],[1.37,0.2],[1.45,0.17],[1.93,0.165],[1.97,0.78],[2.0,0.8],[2.08,0.75],[2.17,0.7],[2.21,0.78],[2.29,0.75],[2.38,0.7],[2.42,0.79],[2.51,0.72],[2.55,0.8],[2.63,0.73],[2.72,0.68],[2.76,0.8],[2.85,0.74],[2.93,0.7],[2.97,0.79],[3.06,0.7],[3.1,0.79],[3.23,0.72],[3.31,0.68],[3.35,0.79],[3.41,0.76],[3.48,0.79],[3.57,0.8],[3.65,0.72],[3.78,0.67],[3.99,0.63],[4.25,0.61],[4.5,0.59],[4.57,0.58],[4.6,0.78],[4.67,0.76],[4.76,0.68],[4.82,0.76],[4.88,0.7],[4.95,0.76],[5.01,0.68],[5.1,0.79],[5.18,0.77],[5.31,0.7],[5.39,0.65],[5.52,0.61],[5.61,0.6],[5.63,0.76],[5.69,0.72],[5.77,0.68],[5.86,0.65],[5.93,0.63],[5.96,0.72],[6.01,0.65],[6.07,0.78],[6.13,0.73],[6.2,0.66],[6.27,0.77],[6.33,0.72],[6.39,0.78],[6.45,0.7],[6.54,0.64],[6.62,0.62],[6.71,0.76],[6.79,0.72],[6.88,0.66],[6.94,0.62],[6.96,0.37],[7.01,0.17],[7.2,0.165],[8.2,0.165]];

// ---------- c) albedo ----------
const albC_ctr: Pt[] = [[0,0.215],[0.96,0.215],[0.97,0.35],[1.02,0.3],[1.1,0.28],[1.2,0.22],[1.9,0.22],[2.0,0.25],[2.12,0.24],[2.35,0.22],[2.61,0.35],[2.71,0.42],[2.82,0.5],[2.88,0.53],[3.0,0.42],[3.12,0.38],[3.24,0.32],[3.29,0.35],[3.35,0.45],[3.41,0.5],[3.44,0.45],[3.5,0.61],[5.0,0.61],[7.0,0.61],[9.0,0.61],[9.06,0.42],[9.1,0.3],[9.18,0.25],[9.29,0.22],[9.8,0.22],[9.88,0.25],[10.0,0.22],[10.18,0.24],[10.3,0.22],[11.0,0.215],[11.06,0.3],[11.15,0.25],[11.3,0.22],[12.1,0.215]];
const albC_ctrA: Pt[] = [[0,0.215],[0.96,0.215],[0.97,0.46],[1.02,0.3],[1.1,0.27],[1.2,0.22],[1.9,0.22],[2.0,0.25],[2.12,0.24],[2.35,0.22],[2.61,0.3],[2.71,0.38],[2.82,0.43],[2.9,0.44],[3.06,0.35],[3.18,0.28],[3.24,0.25],[3.29,0.3],[3.35,0.45],[3.41,0.6],[3.47,0.77],[3.53,0.8],[5.0,0.805],[7.0,0.805],[9.0,0.8],[10.0,0.805],[10.41,0.8],[10.47,0.41],[10.53,0.3],[10.59,0.25],[10.71,0.22],[11.0,0.215],[11.06,0.35],[11.18,0.3],[11.3,0.22],[12.1,0.215]];
const albC_ctrB: Pt[] = [[0,0.215],[0.96,0.215],[0.98,0.36],[1.02,0.53],[1.06,0.8],[1.12,0.6],[1.18,0.3],[1.25,0.25],[1.35,0.22],[1.9,0.22],[2.0,0.27],[2.12,0.28],[2.2,0.24],[2.35,0.22],[2.61,0.76],[2.75,0.7],[2.8,0.75],[3.0,0.78],[3.24,0.79],[3.53,0.82],[3.88,0.83],[4.12,0.81],[4.47,0.83],[4.71,0.79],[4.94,0.74],[5.18,0.71],[5.41,0.68],[5.59,0.67],[5.65,0.82],[6.0,0.74],[6.41,0.67],[6.47,0.82],[7.12,0.7],[7.18,0.82],[8.0,0.79],[8.41,0.74],[8.76,0.64],[8.82,0.78],[9.18,0.71],[9.53,0.8],[9.88,0.7],[10.0,0.55],[10.08,0.5],[10.12,0.45],[10.18,0.4],[10.21,0.35],[10.26,0.3],[10.35,0.22],[11.0,0.215],[11.1,0.5],[11.15,0.45],[11.2,0.3],[11.27,0.25],[11.35,0.22],[12.1,0.215]];
const albC_ctrC: Pt[] = [[0,0.215],[0.96,0.215],[0.98,0.4],[1.03,0.61],[1.08,0.53],[1.12,0.3],[1.2,0.22],[1.9,0.22],[2.0,0.24],[2.12,0.26],[2.35,0.22],[2.6,0.23],[2.65,0.6],[3.5,0.61],[5.0,0.61],[7.0,0.605],[9.0,0.61],[9.3,0.61],[9.35,0.56],[9.4,0.25],[9.5,0.23],[10.0,0.22],[10.18,0.25],[10.3,0.22],[11.0,0.215],[11.06,0.62],[11.12,0.5],[11.2,0.25],[11.3,0.22],[12.1,0.215]];
const albC_ctrD: Pt[] = [[0,0.215],[0.96,0.215],[1.0,0.8],[1.24,0.8],[1.29,0.41],[1.35,0.22],[1.9,0.22],[2.0,0.33],[2.06,0.24],[2.12,0.39],[2.18,0.24],[2.35,0.23],[2.45,0.37],[2.55,0.23],[2.61,0.8],[4.0,0.805],[6.0,0.8],[8.0,0.805],[10.0,0.8],[11.0,0.81],[11.6,0.805],[12.1,0.805]];
const albC_new: Pt[] = [[0,0.215],[0.96,0.215],[0.97,0.81],[1.12,0.81],[1.16,0.4],[1.2,0.25],[1.3,0.22],[1.9,0.22],[2.0,0.26],[2.08,0.25],[2.14,0.46],[2.2,0.24],[2.35,0.22],[2.45,0.3],[2.55,0.25],[2.61,0.81],[2.82,0.78],[2.94,0.75],[3.0,0.8],[3.12,0.72],[3.24,0.8],[3.53,0.83],[3.88,0.84],[4.12,0.82],[4.47,0.84],[4.71,0.8],[4.94,0.75],[5.18,0.72],[5.41,0.69],[5.59,0.68],[5.65,0.84],[5.88,0.8],[6.0,0.75],[6.12,0.82],[6.24,0.79],[6.35,0.75],[6.41,0.67],[6.47,0.83],[6.59,0.8],[6.76,0.83],[6.88,0.76],[7.12,0.71],[7.18,0.83],[7.35,0.78],[7.53,0.83],[7.65,0.8],[7.76,0.82],[8.0,0.8],[8.18,0.82],[8.29,0.8],[8.41,0.75],[8.53,0.7],[8.65,0.66],[8.76,0.65],[8.82,0.8],[8.94,0.77],[9.06,0.82],[9.18,0.72],[9.29,0.82],[9.41,0.73],[9.53,0.83],[9.65,0.72],[9.76,0.83],[9.88,0.75],[10.0,0.7],[10.06,0.8],[10.24,0.8],[10.41,0.78],[10.59,0.75],[10.71,0.72],[10.76,0.55],[10.82,0.35],[10.88,0.22],[11.0,0.215],[11.06,0.81],[11.14,0.81],[11.18,0.65],[11.22,0.3],[11.3,0.22],[12.1,0.215]];
const albC_obs: Pt[] = [[2.61,0.88],[2.66,0.94],[2.71,0.9],[2.76,0.92],[2.82,0.87],[2.88,0.85],[2.94,0.9],[3.0,0.86],[3.06,0.8],[3.12,0.92],[3.18,0.86],[3.24,0.88],[3.29,0.95],[3.35,0.94],[3.41,0.96],[3.47,0.93],[3.53,'-'],[3.59,0.95],[3.65,0.97],[3.71,0.91],[3.76,0.88],[3.82,0.95],[3.88,0.9],[3.94,0.97],[4.0,0.92],[4.1,'-'],[4.21,0.93],[4.29,0.9],[4.47,0.88],[4.71,0.85],[4.94,0.83],[5.06,0.87],[5.18,0.92],[5.24,0.86],[5.29,0.9],[5.41,0.93],[5.53,0.88],[5.62,0.97],[5.71,0.96],[5.76,0.9],[5.82,0.88],[5.94,0.85],[6.06,0.84],[6.18,0.8],[6.29,0.78],[6.35,'-'],[6.41,0.95],[6.47,0.9],[6.53,0.94],[6.59,0.88],[6.65,0.97],[6.71,0.9],[6.76,0.85],[6.82,0.89],[6.94,0.96],[7.0,0.83],[7.12,0.8],[7.24,0.87],[7.29,0.82],[7.41,0.84],[7.53,0.88],[7.65,0.82],[7.76,0.86],[7.82,0.92],[7.88,0.84],[8.0,0.91],[8.06,0.97],[8.12,0.88],[8.18,0.96],[8.24,0.92],[8.29,0.88],[8.35,0.91],[8.41,0.75],[8.47,0.77],[8.53,0.72],[8.59,0.76],[8.65,0.7],[8.71,0.78],[8.76,0.71],[8.82,0.76],[8.94,0.68],[9.0,0.8],[9.06,0.7],[9.12,0.87],[9.18,0.72],[9.29,0.83],[9.35,0.69],[9.41,0.73],[9.47,0.62],[9.53,0.82],[9.59,0.66],[9.65,0.75],[9.71,0.6],[9.82,0.97],[9.88,0.7],[9.94,0.63],[10.0,0.58],[10.06,0.7],[10.12,0.92],[10.18,0.6],[10.24,0.63],[10.35,0.65],[10.41,0.6],[10.47,0.64],[10.59,0.55],[10.8,'-'],[11.04,0.91],[11.08,0.9],[11.15,0.88],[11.2,0.85]];

// ---------- styling ----------
const FONT = '"Liberation Serif", "Times New Roman", Times, serif';
const INK = '#1a1a1a';

const COL: Record<string, string> = {
  UDG: '#0a14ff', CTR: '#3c3c14', CTR_A: '#22ee22', CTR_B: '#8c1a8c',
  CTR_C: '#22eef2', CTR_D: '#3a3a9c', NEW: '#ff0000',
};
const ALB_COL: Record<string, string> = {
  CTR: '#3c3c14', CTR_A: '#22e622', CTR_B: '#9e4682', CTR_C: '#1ee8f0',
  CTR_D: '#3a3aa0', NEW: '#ff1e1e', OBS: '#111111',
};
const ALB_SYM: Record<string, string> = {
  CTR: 'circle', CTR_A: 'rect', CTR_B: 'triangle', CTR_C: 'diamond', CTR_D: 'rect', NEW: 'circle',
};

// grid boxes: depth row, SWE row, albedo row; columns a, b, c
const GRIDS = [
  { left: 70, top: 38, width: 338, height: 186 },
  { left: 475, top: 39, width: 338, height: 185 },
  { left: 882, top: 38, width: 350, height: 186 },
  { left: 76, top: 270, width: 332, height: 187 },
  { left: 482, top: 270, width: 331, height: 187 },
  { left: 887, top: 269, width: 345, height: 188 },
  { left: 73, top: 503, width: 327, height: 187 },
  { left: 480, top: 504, width: 330, height: 187 },
  { left: 890, top: 504, width: 342, height: 187 },
];
const X_MAX = [8.24, 8.24, 12.2, 8.2, 8.23, 12.23, 8.13, 8.41, 12.08];
const Y_AXES = [
  { max: 3, step: 0.5 }, { max: 3, step: 0.5 }, { max: 5, step: 1 },
  { max: 0.5, step: 0.1 }, { max: 0.6, step: 0.1 }, { max: 1, step: 0.2 },
  { max: 1, step: 0.1 }, { max: 1, step: 0.1 }, { max: 1, step: 0.1 },
];
const Y_NAMES: Record<number, { text: string; gap: number }> = {
  0: { text: 'Snow depth (m)', gap: 43 },
  3: { text: 'SWE (m)', gap: 48 },
  6: { text: 'Albedo', gap: 47 },
};

function curve(name: string, gi: number, data: Pt[], width = 1.8, z = 2) {
  return {
    type: 'line', name, xAxisIndex: gi, yAxisIndex: gi, data,
    symbol: 'none', silent: true, z,
    lineStyle: { color: COL[name], width },
    itemStyle: { color: COL[name] },
  };
}

function survey(gi: number, data: Pt[]) {
  return {
    type: 'scatter', name: 'Obs. (survey)', xAxisIndex: gi, yAxisIndex: gi, data,
    symbol: 'circle', symbolSize: 10, silent: true, z: 10,
    itemStyle: { color: '#c8c8ea', borderColor: '#22223a', borderWidth: 1 },
  };
}

function albedo(name: string, gi: number, data: Pt[], width = 1.3, z = 2) {
  return {
    type: 'line', name, xAxisIndex: gi, yAxisIndex: gi, data,
    symbol: ALB_SYM[name], symbolSize: name === 'CTR_D' ? 4 : 3.5, showSymbol: true,
    silent: true, z,
    lineStyle: { color: ALB_COL[name], width },
    itemStyle: { color: ALB_COL[name] },
  };
}

const LEGEND_FONT = { fontFamily: FONT, fontSize: 10.5, lineHeight: 11, fill: INK, verticalAlign: 'middle', align: 'left' };

function depthLegend() {
  const items = [
    { name: 'Obs. (survey)', key: 'survey' }, { name: 'Obs. (UDG)', key: 'UDG' },
    { name: 'CTR', key: 'CTR' }, { name: 'CTR_A', key: 'CTR_A' }, { name: 'CTR_B', key: 'CTR_B' },
    { name: 'CTR_C', key: 'CTR_C' }, { name: 'CTR_D', key: 'CTR_D' }, { name: 'NEW', key: 'NEW' },
  ];
  const out: any[] = [];
  items.forEach((it, i) => {
    const y = 46 + i * 12.4;
    if (it.key === 'survey') {
      out.push({ type: 'circle', shape: { cx: 331, cy: y, r: 4.5 }, style: { fill: '#c8c8ea', stroke: '#22223a', lineWidth: 1 }, silent: true, z: 100 });
    } else {
      out.push({ type: 'line', shape: { x1: 323, y1: y, x2: 339, y2: y }, style: { stroke: COL[it.key], lineWidth: 2 }, silent: true, z: 100 });
    }
    out.push({ type: 'text', x: 342, y, silent: true, z: 100, style: { text: it.name, ...LEGEND_FONT } });
  });
  return out;
}

function albedoLegend() {
  const items = ['CTR', 'CTR_A', 'CTR_B', 'CTR_C', 'CTR_D', 'NEW', 'Obs.'];
  const out: any[] = [];
  items.forEach((name, i) => {
    const y = 604 + i * 12.4;
    if (name === 'Obs.') {
      out.push({ type: 'line', shape: { x1: 1072, y1: y, x2: 1088, y2: y }, style: { stroke: '#444', lineWidth: 2.4 }, silent: true, z: 100 });
    } else {
      const c = ALB_COL[name];
      out.push({ type: 'line', shape: { x1: 1072, y1: y, x2: 1088, y2: y }, style: { stroke: c, lineWidth: 1.4 }, silent: true, z: 100 });
      const sym = ALB_SYM[name];
      if (sym === 'circle') out.push({ type: 'circle', shape: { cx: 1080, cy: y, r: 2 }, style: { fill: c }, silent: true, z: 101 });
      else if (sym === 'rect') out.push({ type: 'rect', shape: { x: 1078, y: y - 2, width: 4, height: 4 }, style: { fill: c }, silent: true, z: 101 });
      else if (sym === 'triangle') out.push({ type: 'polygon', shape: { points: [[1080, y - 2.5], [1082.5, y + 2], [1077.5, y + 2]] }, style: { fill: c }, silent: true, z: 101 });
      else out.push({ type: 'polygon', shape: { points: [[1080, y - 2.5], [1082.5, y], [1080, y + 2.5], [1077.5, y]] }, style: { fill: c }, silent: true, z: 101 });
    }
    out.push({ type: 'text', x: 1091, y, silent: true, z: 100, style: { text: name, ...LEGEND_FONT, fontSize: 11 } });
  });
  return out;
}

function buildOption() {
  const xAxis = GRIDS.map((_, i) => {
    const months = i % 3 === 2 ? MONTHS_AUG : MONTHS_OCT;
    const ticks = months.map((_, k) => k);
    return {
      type: 'value', gridIndex: i, min: 0, max: X_MAX[i],
      axisLine: { onZero: false, lineStyle: { color: '#111', width: i >= 7 ? 2 : 1.2 } },
      axisTick: { show: true, customValues: ticks, length: 5, lineStyle: { color: '#111' } },
      axisLabel: {
        customValues: ticks, margin: 21, fontFamily: FONT, fontSize: 15, color: INK,
        formatter: (v: number) => months[Math.round(v)] ?? '',
      },
      splitLine: { show: false },
    };
  });
  const yAxis = GRIDS.map((_, i) => {
    const ya = Y_AXES[i];
    const nm = Y_NAMES[i];
    return {
      type: 'value', gridIndex: i, min: 0, max: ya.max, interval: ya.step,
      axisLine: { show: true, lineStyle: { color: '#111', width: i >= 7 ? 2 : 1.2 } },
      axisTick: { show: true, length: 5, lineStyle: { color: '#111' } },
      axisLabel: { margin: 12, fontFamily: FONT, fontSize: 15, color: INK, formatter: (v: number) => v.toFixed(1) },
      splitLine: { show: false },
      ...(nm ? {
        name: nm.text, nameLocation: 'middle', nameGap: nm.gap, nameRotate: 90,
        nameTextStyle: { fontFamily: FONT, fontSize: 16, fontWeight: 'bold', color: INK },
      } : {}),
    };
  });

  const series: any[] = [
    // snow depth
    curve('CTR', 0, depthA_ctr), curve('CTR_A', 0, depthA_ctrA), curve('CTR_B', 0, depthA_ctrB),
    curve('CTR_D', 0, depthA_ctrD), curve('CTR_C', 0, depthA_ctrC),
    { ...curve('UDG', 0, depthA_udg, 2.4, 3), name: 'Obs. (UDG)' }, curve('NEW', 0, depthA_new, 2.4, 4),
    survey(0, depthA_survey),
    curve('CTR', 1, depthB_ctr), curve('CTR_A', 1, depthB_ctrA), curve('CTR_B', 1, depthB_ctrB),
    curve('CTR_D', 1, depthB_ctrD), curve('CTR_C', 1, depthB_ctrC),
    { ...curve('UDG', 1, depthB_udg, 2.2, 3), name: 'Obs. (UDG)' }, curve('NEW', 1, depthB_new, 2.4, 4),
    survey(1, depthB_survey),
    curve('CTR', 2, depthC_ctr), curve('CTR_A', 2, depthC_ctrA), curve('CTR_B', 2, depthC_ctrB),
    curve('CTR_D', 2, depthC_ctrD), curve('CTR_C', 2, depthC_ctrC),
    { ...curve('UDG', 2, depthC_udg, 2.2, 3), name: 'Obs. (UDG)' }, curve('NEW', 2, depthC_new, 2.4, 4),
    survey(2, depthC_survey),
    // SWE
    curve('CTR', 3, sweA_ctr), curve('CTR_A', 3, sweA_ctrA), curve('CTR_B', 3, sweA_ctrB),
    curve('CTR_D', 3, sweA_ctrD), curve('CTR_C', 3, sweA_ctrC), curve('NEW', 3, sweA_new, 2.2, 4),
    survey(3, sweA_survey),
    curve('CTR', 4, sweB_ctr), curve('CTR_A', 4, sweB_ctrA), curve('CTR_B', 4, sweB_ctrB),
    curve('CTR_D', 4, sweB_ctrD), curve('CTR_C', 4, sweB_ctrC), curve('NEW', 4, sweB_new, 2.2, 4),
    survey(4, sweB_survey),
    curve('CTR', 5, sweC_ctr), curve('CTR_A', 5, sweC_ctrA), curve('CTR_B', 5, sweC_ctrB),
    curve('CTR_D', 5, sweC_ctrD), curve('CTR_C', 5, sweC_ctrC), curve('NEW', 5, sweC_new, 2.2, 4),
    survey(5, sweC_survey),
    // albedo
    albedo('CTR', 6, albA_ctr), albedo('CTR_A', 6, albA_ctrA), albedo('CTR_B', 6, albA_ctrB),
    albedo('CTR_C', 6, albA_ctrC, 1.8), albedo('CTR_D', 6, albA_ctrD, 2.4, 3), albedo('NEW', 6, albA_new, 1.3, 4),
    albedo('CTR', 7, albB_ctr), albedo('CTR_A', 7, albB_ctrA), albedo('CTR_B', 7, albB_ctrB),
    albedo('CTR_C', 7, albB_ctrC, 1.8), albedo('CTR_D', 7, albB_ctrD, 2.4, 3), albedo('NEW', 7, albB_new, 1.3, 4),
    albedo('CTR', 8, albC_ctr), albedo('CTR_A', 8, albC_ctrA), albedo('CTR_B', 8, albC_ctrB),
    albedo('CTR_C', 8, albC_ctrC, 1.6), albedo('CTR_D', 8, albC_ctrD, 2.4, 3), albedo('NEW', 8, albC_new, 1.3, 4),
    {
      type: 'line', name: 'Obs.', xAxisIndex: 8, yAxisIndex: 8, data: albC_obs,
      symbol: 'none', silent: true, z: 5, connectNulls: false,
      lineStyle: { color: '#111', width: 1 },
    },
  ];

  const titleStyle = { fontFamily: FONT, fontSize: 20, fontWeight: 'bold', color: '#111' };

  return {
    animation: false,
    backgroundColor: '#ffffff',
    title: [
      { text: 'a) CDP (1996-97)', left: 172, top: 8, padding: 0, textStyle: titleStyle },
      { text: 'b) CDP (1997-98)', left: 590, top: 8, padding: 0, textStyle: titleStyle },
      { text: 'c) WFJ(1992-93)', left: 976, top: 8, padding: 0, textStyle: titleStyle },
    ],
    grid: GRIDS.map((g) => ({ ...g, show: true, borderColor: '#333', borderWidth: 1, backgroundColor: 'transparent', containLabel: false })),
    xAxis,
    yAxis,
    series,
    graphic: [...depthLegend(), ...albedoLegend()],
  };
}

export default function App() {
  const ref = useRef<HTMLDivElement>(null);
  useEffect(() => {
    if (!ref.current) return;
    const chart = echarts.init(ref.current, null, { renderer: 'svg' });
    chart.setOption(buildOption() as any);
    return () => chart.dispose();
  }, []);
  return (
    <div
      ref={ref}
      style={{ position: 'absolute', left: 0, top: 0, width: 1218, height: 728, overflow: 'hidden', background: '#fff' }}
    />
  );
}
